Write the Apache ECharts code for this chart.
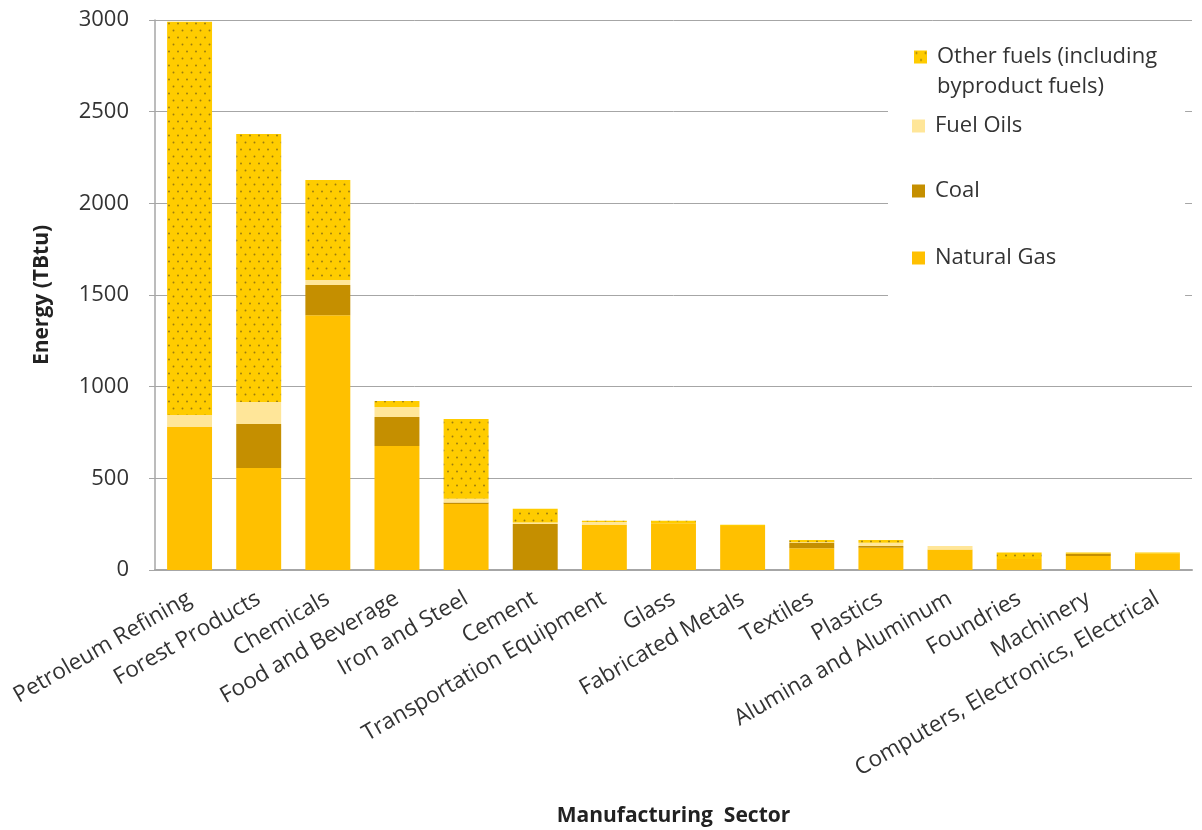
<!DOCTYPE html>
<html>
<head>
<meta charset="utf-8">
<script src="https://cdn.jsdelivr.net/npm/echarts@6/dist/echarts.min.js"></script>
<style>html,body{margin:0;padding:0;background:#fff;}#c{width:1202px;height:830px;}</style>
</head>
<body>
<div id="c"></div>
<script>
const categories = ["Petroleum Refining","Forest Products","Chemicals","Food and Beverage","Iron and Steel","Cement","Transportation Equipment","Glass","Fabricated Metals","Textiles","Plastics","Alumina and Aluminum","Foundries","Machinery","Computers, Electronics, Electrical"];
const naturalGas = [780, 556, 1390, 676, 360, 0, 245, 255, 240, 118, 122, 112, 60, 76, 88];
const coal       = [0, 240, 165, 159, 8, 251, 0, 0, 0, 31, 9, 0, 0, 12, 0];
const fuelOils   = [65, 120, 27, 54, 20, 8, 17, 0, 0, 3, 18, 19, 0, 0, 0];
const otherFuels = [2145, 1462, 545, 33, 436, 75, 7, 14, 7, 12, 15, 0, 36, 8, 8];
const yTicks = [0, 500, 1000, 1500, 2000, 2500, 3000];

const FONT = "Open Sans";
const TXT = "#333333";

const pc = document.createElement('canvas');
pc.width = 18; pc.height = 14;
const g = pc.getContext('2d');
g.fillStyle = '#FFCC00'; g.fillRect(0,0,18,14);
g.fillStyle = '#9A7C10';
[[2.5,2.5],[11.5,2.5],[7,9.5],[16,9.5]].forEach(p => { g.beginPath(); g.arc(p[0],p[1],0.95,0,Math.PI*2); g.fill(); });
const otherPattern = {image: pc, repeat: 'repeat'};

const chart = echarts.init(document.getElementById('c'), null, {renderer:'canvas'});
const legendBase = {
  orient: 'vertical', left: 907, icon: 'path://M0,0h13v13h-13zM18,0', itemWidth: 18, itemHeight: 13, itemGap: 0,
  textStyle: {fontFamily: FONT, fontSize: 22, color: TXT, lineHeight: 30},
  selectedMode: false
};
chart.setOption({
  animation: false,
  backgroundColor: '#fff',
  grid: {left: 155, right: 10, top: 20, bottom: 260, outerBoundsMode: 'none', containLabel: false},
  legend: [
    Object.assign({}, legendBase, {left: 888, top: 32, data: ['Other fuels (including\nbyproduct fuels)'],
      icon: 'path://M0,0h13v13h-13zM18,43', itemHeight: 43,
      backgroundColor: '#fff', padding: [10, 28, 205, 26]}),
    Object.assign({}, legendBase, {top: 106, data: ['Fuel Oils']}),
    Object.assign({}, legendBase, {top: 171, data: ['Coal']}),
    Object.assign({}, legendBase, {top: 238, data: ['Natural Gas']})
  ],
  xAxis: {
    type: 'category', data: categories,
    axisLine: {lineStyle: {color: '#A6A6A6', width: 2}},
    axisTick: {show: false},
    axisLabel: {rotate: 30, interval: 0, fontFamily: FONT, fontSize: 22.5, color: TXT, margin: 27},
    name: 'Manufacturing  Sector', nameLocation: 'middle', nameGap: 236,
    nameTextStyle: {fontFamily: FONT, fontSize: 21, fontWeight: 'bold', color: '#222'}
  },
  yAxis: {
    type: 'value', min: 0, max: 3000, interval: 500,
    axisLine: {show: true, lineStyle: {color: '#A6A6A6', width: 1.5}},
    axisTick: {show: true, length: 6, lineStyle: {color: '#A6A6A6'}},
    splitLine: {lineStyle: {color: '#A6A6A6', width: 1}},
    axisLabel: {fontFamily: FONT, fontSize: 22, color: TXT, margin: 26,
      formatter: v => yTicks.includes(v) ? String(v) : ''},
    name: 'Energy (TBtu)', nameLocation: 'middle', nameGap: 102, nameRotate: 90,
    nameTextStyle: {fontFamily: FONT, fontSize: 21, fontWeight: 'bold', color: '#222'}
  },
  series: [
    {name: 'Natural Gas', type: 'bar', stack: 's', data: naturalGas, barWidth: '65%', itemStyle: {color: '#FFC000'}},
    {name: 'Coal', type: 'bar', stack: 's', data: coal, itemStyle: {color: '#C58F00'}},
    {name: 'Fuel Oils', type: 'bar', stack: 's', data: fuelOils, itemStyle: {color: '#FFE699'}},
    {name: 'Other fuels (including\nbyproduct fuels)', type: 'bar', stack: 's', data: otherFuels, itemStyle: {color: otherPattern}}
  ]
});
</script>
</body>
</html>
